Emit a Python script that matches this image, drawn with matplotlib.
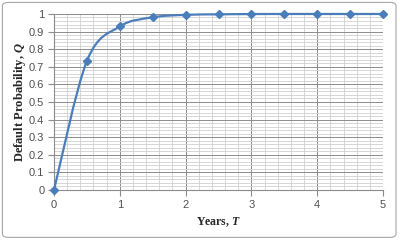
import matplotlib
matplotlib.use("Agg")
import matplotlib.pyplot as plt
from matplotlib.path import Path
from matplotlib.patches import PathPatch, FancyBboxPatch
from matplotlib.ticker import MultipleLocator
import numpy as np

plt.rcParams["mathtext.fontset"] = "custom"
plt.rcParams["mathtext.bf"] = "Liberation Serif:bold:italic"
plt.rcParams["mathtext.rm"] = "Liberation Serif:bold"

years = [0, 0.5, 1, 1.5, 2, 2.5, 3, 3.5, 4, 4.5, 5]
default_prob = [0.0, 0.733, 0.929, 0.981, 0.995, 0.998, 0.9995, 1.0, 1.0, 1.0, 1.0]
x_ticks = [0, 1, 2, 3, 4, 5]
y_ticks = [0, 0.1, 0.2, 0.3, 0.4, 0.5, 0.6, 0.7, 0.8, 0.9, 1]

line_color = "#4A7EBB"

fig = plt.figure(figsize=(4.0, 2.41), dpi=100)
fig.patch.set_facecolor("white")
border = FancyBboxPatch((0.006, 0.015), 0.984, 0.975, boxstyle="round,pad=0,rounding_size=0.015",
                        transform=fig.transFigure, facecolor="none", edgecolor="#A6A6A6", lw=0.8,
                        zorder=-5)
fig.patches.append(border)

ax = fig.add_axes([0.135, 0.2116, 0.8225, 0.7304])
ax.set_xlim(0, 5)
ax.set_ylim(0, 1)
ax.set_xticks(x_ticks)
ax.set_yticks(y_ticks)
ax.set_xticklabels([str(t) for t in x_ticks])
ax.set_yticklabels(["0" if t == 0 else ("1" if t == 1 else f"{t:.1f}") for t in y_ticks])
ax.xaxis.set_minor_locator(MultipleLocator(0.2))
ax.yaxis.set_minor_locator(MultipleLocator(0.02))
ax.grid(which="major", color="#8C8C8C", lw=0.7)
ax.grid(which="minor", color="#D0D0D0", lw=0.6)
ax.set_axisbelow(True)
for s in ["top", "right"]:
    ax.spines[s].set_visible(False)
for s in ["left", "bottom"]:
    ax.spines[s].set_color("#8C8C8C")
    ax.spines[s].set_linewidth(0.8)
ax.tick_params(which="major", length=4, color="#8C8C8C", labelsize=8, labelcolor="#505050", pad=3)
ax.tick_params(which="minor", length=0)
for lab in ax.get_xticklabels() + ax.get_yticklabels():
    lab.set_fontfamily("Liberation Sans")

# Excel-style smoothed line via cubic Bezier segments (Catmull-Rom control points)
xs = np.array(years, dtype=float)
ys = np.array(default_prob, dtype=float)
n = len(xs)
verts = [(xs[0], ys[0])]
codes = [Path.MOVETO]
t = 1.0 / 6.0
for i in range(n - 1):
    p0 = (xs[max(i - 1, 0)], ys[max(i - 1, 0)])
    p1 = (xs[i], ys[i])
    p2 = (xs[i + 1], ys[i + 1])
    p3 = (xs[min(i + 2, n - 1)], ys[min(i + 2, n - 1)])
    c1 = (p1[0] + (p2[0] - p0[0]) * t, p1[1] + (p2[1] - p0[1]) * t)
    c2 = (p2[0] - (p3[0] - p1[0]) * t, p2[1] - (p3[1] - p1[1]) * t)
    verts += [c1, c2, p2]
    codes += [Path.CURVE4] * 3
patch = PathPatch(Path(verts, codes), facecolor="none", edgecolor=line_color, lw=1.6,
                  clip_on=False, zorder=3)
ax.add_patch(patch)
ax.plot(years, default_prob, linestyle="none", marker="D", markersize=4.5,
        color=line_color, clip_on=False, zorder=4)

ax.set_xlabel(r"Years, $\mathbf{T}$", fontfamily="Liberation Serif", fontweight="bold",
              fontsize=8.5, color="#262626", labelpad=4)
ax.set_ylabel(r"Default Probability, $\mathbf{Q}$", fontfamily="Liberation Serif",
              fontweight="bold", fontsize=9, color="#262626", labelpad=0.5)

fig.savefig("out.png", dpi=100, facecolor="white")
